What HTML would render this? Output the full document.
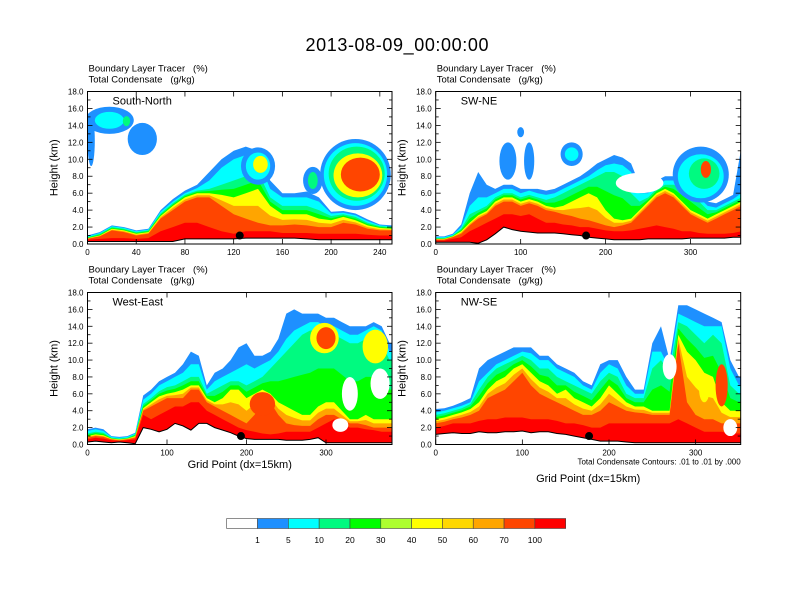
<!DOCTYPE html>
<html><head><meta charset="utf-8"><style>
html,body{margin:0;padding:0;background:#fff;}
svg{display:block;font-family:"Liberation Sans",sans-serif;}
</style></head><body>
<svg id="fig" width="792" height="612" viewBox="0 0 792 612">
<text x="397" y="51" font-size="18" text-anchor="middle" textLength="183">2013-08-09_00:00:00</text>
</svg>
<script>
// ---- data ----
const levelColors=["#1e90ff","#00ffff","#00fa80","#ffff00","#ff4500","#ff0000"];
const barLabels=["1","5","10","20","30","40","50","60","70","100"];
const barColors=["#ffffff","#1e90ff","#00ffff","#00fa80","#00ff00","#adff2f","#ffff00","#ffd700","#ffa500","#ff4500","#ff0000"];
const yTicks=[0,2,4,6,8,10,12,14,16,18];

const p1Names="South-North";
const p1X=[0,10,20,30,40,50,60,70,80,90,100,110,120,130,140,150,160,170,180,190,200,210,220,230,240,250];
const p1Terrain=[0.3,0.3,0.3,0.3,0.3,0.3,0.3,0.3,0.6,0.6,0.6,0.6,0.6,0.7,0.7,0.7,0.7,0.7,0.6,0.5,0.5,0.5,0.5,0.5,0.5,0.5];
const p1Red=[0.5,0.6,0.7,0.7,0.6,0.7,1.5,2.0,2.5,2.5,2.0,1.5,1.2,1.5,1.5,1.5,1.3,1.3,1.3,1.2,1.2,1.2,1.2,1.1,1.0,1.0];
const p1OrangeRed=[0.6,0.9,1.6,1.4,1.0,1.2,3.0,4.0,5.0,5.5,5.5,4.5,3.5,3.0,2.5,2.2,2.2,2.3,2.2,2.0,2.0,2.5,2.3,1.8,1.6,1.6];
const p1Yellow=[0.7,1.0,1.8,1.6,1.2,1.4,3.3,4.5,5.5,6.0,6.0,5.8,5.5,6.0,6.5,4.5,3.5,3.5,3.5,3.0,2.8,3.2,2.8,2.2,1.9,1.8];
const p1Green=[0.8,1.2,2.0,1.8,1.4,1.6,3.6,4.8,5.8,6.3,6.5,7.0,7.5,8.0,8.5,5.5,4.5,4.5,4.5,4.0,3.3,3.5,3.2,2.5,2.1,2.0];
const p1Cyan=[0.9,1.3,2.1,1.9,1.5,1.7,3.8,5.0,6.0,6.6,7.5,9.0,10.0,10.5,10.0,6.5,5.5,5.5,5.5,5.0,3.6,3.7,3.4,2.7,2.2,2.1];
const p1Blue=[1.0,1.4,2.2,2.0,1.6,1.8,4.0,5.3,6.3,7.0,8.5,10.0,11.0,11.5,11.0,7.5,6.0,6.0,6.2,5.5,3.8,3.9,3.6,2.9,2.3,2.2];
// blobs: [x, z, rx, rz, level] level -1 = white
const p1Blobs=[[220,8.2,29,4.2,0],[220,8.2,26,3.7,1],[221,8.3,23,3.2,2],[222,8.1,20,2.6,3],[224,8.2,16,2.0,4],
 [140,9.2,14,2.2,0],[140,9.2,10,1.6,1],[142,9.4,6,1.0,3],[18,14.6,20,1.6,0],[18,14.6,12,1.0,1],[32,14.5,3,0.6,2],[45,12.4,12,1.9,0],[3,12.2,3,3.0,0],
 [185,7.5,8,1.6,0],[185,7.5,4,1.0,2]];
const p1Dot=[125,1.0];

const p2Names="SW-NE";
const p2X=[0,10,20,30,40,50,60,70,80,90,100,110,120,130,140,150,160,170,180,190,200,210,220,230,240,250,260,270,280,290,300,310,320,330,340,350,360];
const p2Terrain=[0.2,0.2,0.2,0.2,0.2,0.1,0.5,1.2,2.0,1.7,1.5,1.4,1.3,1.3,1.3,1.2,1.1,1.0,0.8,0.7,0.6,0.5,0.5,0.5,0.5,0.6,0.6,0.6,0.6,0.6,0.7,0.7,0.7,0.7,0.7,0.8,0.8];
const p2Red=[0.4,0.4,0.6,0.8,1.5,2.0,2.5,3.0,3.5,3.5,3.3,3.5,3.0,2.5,2.5,2.3,2.2,2.0,2.0,1.8,1.6,1.5,1.5,1.6,1.8,2.0,2.2,2.0,1.8,1.5,1.5,1.3,1.2,1.2,1.2,1.3,1.5];
const p2OrangeRed=[0.5,0.5,0.8,1.2,2.2,3.0,3.5,4.5,5.0,5.0,4.5,4.8,4.5,4.0,3.8,3.5,3.3,3.0,2.8,2.5,2.2,2.0,2.2,2.5,3.5,4.5,5.5,6.0,5.5,4.5,3.5,3.0,2.5,3.0,3.5,4.0,4.5];
const p2Yellow=[0.6,0.6,0.9,1.5,2.5,3.4,3.9,5.0,5.5,5.5,5.0,5.3,5.0,4.5,4.3,4.5,5.0,5.5,6.0,5.5,4.0,3.0,2.8,3.0,4.0,5.0,6.0,6.5,6.0,5.0,4.0,3.5,3.0,3.5,4.0,4.5,5.0];
const p2Green=[0.7,0.7,1.0,1.8,3.5,4.0,4.5,5.5,6.0,6.0,5.5,5.8,5.5,5.2,5.5,6.0,6.5,7.0,7.5,8.0,8.5,8.5,8.0,6.0,5.0,5.5,6.5,7.0,7.0,6.5,6.0,5.0,4.0,4.0,4.5,5.0,5.5];
const p2Cyan=[0.8,0.8,1.1,2.0,4.5,5.5,5.5,6.0,6.5,6.5,6.0,6.3,6.0,5.8,6.0,6.5,7.0,7.5,8.0,8.7,9.3,9.5,9.3,8.5,6.0,6.0,7.0,7.5,7.5,7.0,6.5,5.5,4.5,4.3,4.8,5.3,6.0];
const p2Blue=[0.9,0.9,1.2,2.3,6.0,8.5,7.0,6.5,7.0,7.0,6.5,6.5,6.5,6.3,6.5,7.0,7.5,8.0,8.7,9.5,10.0,10.5,10.2,9.5,7.0,6.5,7.5,8.0,8.0,7.5,7.0,6.0,5.0,4.8,5.3,5.8,11.5];
const p2Blobs=[[312,8.2,33,3.3,0],[312,8.0,27,2.6,1],[316,8.3,18,1.8,2],[318,8.8,6,1.0,4],[85,9.8,10,2.2,0],[110,9.8,6,2.2,0],[160,10.6,13,1.4,0],[160,10.6,8,0.8,1],[100,13.2,4,0.6,0],[240,7.2,28,1.2,-1]];
const p2Dot=[177,1.0];

const p3Names="West-East";
const p3X=[0,10,20,30,40,50,60,70,80,90,100,110,120,130,140,150,160,170,180,190,200,210,220,230,240,250,260,270,280,290,300,310,320,330,340,350,360,370,380,390];
const p3Terrain=[0.3,0.4,0.3,0.2,0.3,0.2,0.1,2.0,1.8,1.5,1.8,2.5,2.2,1.7,2.5,2.5,2.0,1.7,1.4,1.0,0.7,0.6,0.6,0.6,0.6,0.5,0.5,0.5,0.6,0.8,0.2,0.2,0.2,0.2,0.2,0.2,0.2,0.2,0.2,0.2];
const p3Red=[0.6,0.8,0.7,0.5,0.4,0.5,0.6,3.5,3.0,3.5,4.0,4.5,4.5,5.0,5.0,4.0,3.5,3.0,2.5,2.0,1.7,1.5,1.3,1.2,1.3,1.5,1.5,1.5,1.5,2.0,2.5,3.0,2.5,2.0,2.0,1.8,1.7,1.5,1.5,1.5];
const p3OrangeRed=[0.8,1.0,0.9,0.6,0.5,0.6,0.8,4.0,4.5,5.0,5.5,5.5,5.5,6.5,6.5,5.0,4.5,4.0,3.5,3.0,2.5,3.5,5.0,5.0,3.5,2.5,2.3,2.2,2.2,3.0,3.5,3.5,3.0,2.5,2.5,2.3,2.0,2.0,2.0,2.0];
const p3Yellow=[1.0,1.2,1.1,0.7,0.6,0.7,1.0,4.3,5.0,5.7,6.0,6.2,6.5,7.0,7.0,5.5,5.0,5.5,6.5,6.5,5.5,6.0,6.5,6.0,5.0,4.5,4.0,3.5,3.5,4.5,5.0,5.0,4.0,3.0,3.0,3.5,3.0,3.0,3.0,3.0];
const p3Green=[1.3,1.5,1.4,0.8,0.7,0.8,1.2,4.8,5.5,6.3,6.8,7.0,7.5,8.0,8.0,6.0,6.5,7.0,7.5,7.5,7.0,7.5,8.0,9.0,10.0,11.0,12.0,13.0,13.5,13.5,13.0,13.0,12.5,12.0,12.0,12.5,13.0,12.0,10.0,10.0];
const p3Cyan=[1.6,1.8,1.6,0.9,0.8,0.9,1.3,5.3,6.0,7.0,7.5,8.0,8.5,9.5,9.5,6.5,7.5,8.0,8.5,9.0,9.5,9.0,9.5,10.0,11.0,12.5,13.5,14.0,14.5,14.5,14.0,14.0,13.5,13.0,13.0,13.5,14.0,13.5,11.0,11.0];
const p3Blue=[1.8,2.0,1.8,1.0,0.9,1.0,1.4,5.8,6.5,7.5,8.0,8.5,9.5,11.0,10.5,7.0,8.5,9.0,10.0,11.5,12.0,10.5,10.5,11.0,12.5,15.5,16.0,15.5,15.5,15.5,15.0,15.0,14.5,14.0,14.0,14.0,14.5,14.0,12.0,12.0];
const p3Blobs=[[298,12.6,18,1.8,3],[300,12.6,12,1.3,4],[362,11.6,16,2.0,3],[220,4.8,16,1.4,4],[330,6.0,10,2.0,-1],[368,7.2,12,1.8,-1],[318,2.3,10,0.8,-1]];
const p3Dot=[193,1.0];

const p4Names="NW-SE";
const p4X=[0,10,20,30,40,50,60,70,80,90,100,110,120,130,140,150,160,170,180,190,200,210,220,230,240,250,260,270,280,290,300,310,320,330,340,350,360];
const p4Terrain=[1.2,1.3,1.4,1.3,1.3,1.5,1.4,1.4,1.5,1.5,1.6,1.4,1.5,1.5,1.3,1.2,1.0,0.8,0.6,0.4,0.4,0.4,0.3,0.2,0.2,0.2,0.2,0.2,0.2,0.2,0.2,0.2,0.2,0.2,0.2,0.2,0.2];
const p4Red=[2.0,2.2,2.5,2.5,2.5,2.8,3.0,3.0,3.2,3.2,3.2,3.0,3.0,3.0,2.8,2.5,2.5,2.3,2.0,2.0,2.5,2.5,2.5,2.5,2.5,2.5,2.5,2.5,3.0,2.5,2.0,1.5,1.5,1.5,1.3,1.3,1.3];
const p4OrangeRed=[2.5,2.7,3.0,3.2,3.5,4.0,5.5,6.0,6.5,7.5,8.5,7.0,6.0,5.5,5.0,4.5,4.0,3.5,3.5,4.0,5.0,4.5,4.0,3.8,3.7,3.5,3.5,3.5,12.0,5.0,3.5,3.0,3.0,2.5,2.5,2.5,2.5];
const p4Yellow=[3.0,3.2,3.5,3.8,4.2,5.0,6.5,7.5,8.0,9.0,9.5,8.5,7.5,7.0,6.0,6.5,5.5,5.0,4.5,5.5,7.0,6.0,5.0,4.5,4.5,4.0,4.0,4.0,13.0,11.0,10.0,8.5,8.0,5.0,4.0,4.0,4.0];
const p4Green=[3.5,3.7,4.0,4.3,4.8,6.5,8.0,9.0,9.5,10.0,10.5,10.0,9.0,9.0,8.0,7.5,7.0,6.5,6.0,7.5,8.5,8.0,6.0,5.5,5.5,9.0,10.0,8.5,14.5,14.0,13.0,12.0,13.0,12.0,7.0,6.0,6.0];
const p4Cyan=[3.8,4.0,4.3,4.6,5.0,7.5,8.5,9.5,10.0,10.5,11.0,10.8,10.0,10.0,9.0,8.5,8.0,7.0,6.5,8.5,9.5,9.0,7.0,6.0,6.0,11.0,11.0,9.0,15.5,15.0,14.5,14.0,14.0,14.0,9.0,7.0,7.0];
const p4Blue=[4.2,4.3,4.6,5.0,5.5,9.0,10.0,10.5,11.0,11.5,11.5,11.5,10.5,10.5,9.5,9.0,8.5,7.5,7.0,9.5,10.0,10.0,8.0,6.5,6.5,12.0,14.0,10.0,16.5,16.5,16.0,15.5,15.0,14.5,10.0,8.0,8.0];
const p4Blobs=[[270,9.2,8,1.5,-1],[310,6.5,6,1.5,3],[330,7,7,2.5,4],[340,2.0,8,1.0,-1]];
const p4Dot=[177,1.0];

// ---- drawing ----
const NS="http://www.w3.org/2000/svg";
const svg=document.getElementById('fig');
function mk(tag,attrs,parent){const e=document.createElementNS(NS,tag);for(const k in attrs)e.setAttribute(k,attrs[k]);(parent||svg).appendChild(e);return e;}
function txt(s,attrs,parent){const e=mk('text',attrs,parent);e.textContent=s;return e;}

const panels=[
 {name:p1Names,x0:87.5,y0:91.5,w:304.5,h:152.5,xmax:250,ticks:[0,40,80,120,160,200,240],xs:p1X,terr:p1Terrain,lv:[p1Blue,p1Cyan,p1Green,p1Yellow,p1OrangeRed,p1Red],blobs:p1Blobs,dot:p1Dot,slug:'south-north'},
 {name:p2Names,x0:435.7,y0:91.5,w:305,h:152.5,xmax:359,ticks:[0,100,200,300],xs:p2X,terr:p2Terrain,lv:[p2Blue,p2Cyan,p2Green,p2Yellow,p2OrangeRed,p2Red],blobs:p2Blobs,dot:p2Dot,slug:'sw-ne'},
 {name:p3Names,x0:87.5,y0:292.5,w:304.5,h:152,xmax:383,ticks:[0,100,200,300],xs:p3X,terr:p3Terrain,lv:[p3Blue,p3Cyan,p3Green,p3Yellow,p3OrangeRed,p3Red],blobs:p3Blobs,dot:p3Dot,slug:'west-east',xlab:true},
 {name:p4Names,x0:435.7,y0:292.5,w:305,h:152,xmax:352,ticks:[0,100,200,300],xs:p4X,terr:p4Terrain,lv:[p4Blue,p4Cyan,p4Green,p4Yellow,p4OrangeRed,p4Red],blobs:p4Blobs,dot:p4Dot,slug:'nw-se',xlab:true,note:true}
];

panels.forEach((P,i)=>{
 const g=mk('g',{});
 
 
 const sx=x=>P.x0+x/P.xmax*P.w, sy=z=>P.y0+P.h-z/18*P.h;
 const cid='clip'+i;
 const cp=mk('clipPath',{id:cid},g);mk('rect',{x:P.x0,y:P.y0,width:P.w,height:P.h},cp);
 const pg=mk('g',{'clip-path':'url(#'+cid+')'},g);
 function area(arr,col,nm){
  let d='M'+sx(P.xs[0])+','+sy(0);
  P.xs.forEach((x,k)=>{d+=' L'+sx(x).toFixed(1)+','+sy(arr[k]).toFixed(1);});
  d+=' L'+sx(P.xs[P.xs.length-1])+','+sy(0)+' Z';
  const p=mk('path',{d:d,fill:col},pg);
  
  
  return p;
 }
 const L=P.lv;
 const mid=(a,b)=>a.map((v,k)=>(v+b[k])/2);
 area(L[0],levelColors[0],'area-1-5');
 area(L[1],levelColors[1],'area-5-10');
 area(L[2],levelColors[2],'area-10-20');
 area(mid(L[2],L[3]),'#00ff00','area-20-30');
 area(L[3],'#ffff00','area-40-50');
 area(mid(L[3],L[4]),'#ffa500','area-60-70');
 area(L[4],levelColors[4],'area-70-100');
 area(L[5],levelColors[5],'area-100');
 const bc=['#1e90ff','#00ffff','#00fa80','#ffff00','#ff4500','#ff0000'];
 P.blobs.forEach(b=>{
  const e=mk('ellipse',{cx:sx(b[0]),cy:sy(b[1]),rx:b[2]/P.xmax*P.w,ry:b[3]/18*P.h,fill:b[4]<0?'#fff':bc[b[4]]},pg);
  
  
 });
 area(P.terr,'#ffffff','terrain');
 let d='';P.xs.forEach((x,k)=>{d+=(k?' L':'M')+sx(x).toFixed(1)+','+sy(P.terr[k]).toFixed(1);});
 const tl=mk('path',{d:d,fill:'none',stroke:'#000','stroke-width':1},pg);
 
 
 const dot=mk('circle',{cx:sx(P.dot[0]),cy:sy(P.dot[1]),r:4,fill:'#000'},pg);
 
 
 // frame
 const fr=mk('rect',{x:P.x0,y:P.y0,width:P.w,height:P.h,fill:'none',stroke:'#000','stroke-width':1},g);
 
 
 // y ticks
 for(let z=0;z<=18;z+=1){
  const y=sy(z),len=z%2===0?5:3;
  mk('line',{x1:P.x0,x2:P.x0+len,y1:y,y2:y,stroke:'#000','stroke-width':0.8},g);
  mk('line',{x1:P.x0+P.w,x2:P.x0+P.w-len,y1:y,y2:y,stroke:'#000','stroke-width':0.8},g);
 }
 yTicks.forEach(z=>{
  const t=txt(z.toFixed(1),{x:P.x0-4,y:sy(z)+3,'font-size':8,'text-anchor':'end'},g);
  
  
 });
 P.ticks.forEach(v=>{
  const x=sx(v);
  mk('line',{x1:x,x2:x,y1:P.y0+P.h,y2:P.y0+P.h-5,stroke:'#000','stroke-width':0.8},g);
  mk('line',{x1:x,x2:x,y1:P.y0,y2:P.y0+5,stroke:'#000','stroke-width':0.8},g);
  const t=txt(String(v),{x:x,y:P.y0+P.h+11,'font-size':8,'text-anchor':'middle'},g);
  
  
 });
 const yl=txt('Height (km)',{x:0,y:0,'font-size':11,'text-anchor':'middle',transform:'translate('+(P.x0-30)+','+(P.y0+P.h/2)+') rotate(-90)'},g);
 
 
 const h1=txt('Boundary Layer Tracer   (%)',{x:P.x0+1,y:P.y0-20,'font-size':9.5,'xml:space':'preserve'},g);
 
 
 h1.setAttribute('style','white-space:pre');
 const h2=txt('Total Condensate   (g/kg)',{x:P.x0+1,y:P.y0-9,'font-size':9.5},g);
 
 
 h2.setAttribute('style','white-space:pre');
 const pn=txt(P.name,{x:P.x0+25,y:P.y0+13,'font-size':11},g);
 
 
 if(P.xlab){
  const xl=txt('Grid Point (dx=15km)',{x:P.x0+P.w/2,y:P.note?482:468,'font-size':11,'text-anchor':'middle'},g);
  
  
 }
 if(P.note){
  const nt=txt('Total Condensate Contours: .01 to .01 by .000',{x:P.x0+P.w,y:P.y0+P.h+20,'font-size':8,'text-anchor':'end'},g);
  
  
 }
});

// colorbar
const cb=mk('g',{});


const cbx=226.7,cbw=339,cby=518.5,cbh=10;
const bw=cbw/barColors.length;
barColors.forEach((c,k)=>{
 const r=mk('rect',{x:cbx+k*bw,y:cby,width:bw,height:cbh,fill:c,stroke:'#444','stroke-width':0.6},cb);
 
 
});
barLabels.forEach((s,k)=>{
 const t=txt(s,{x:cbx+(k+1)*bw,y:543,'font-size':8.5,'text-anchor':'middle'},cb);
 
 
});
</script>
</body></html>
